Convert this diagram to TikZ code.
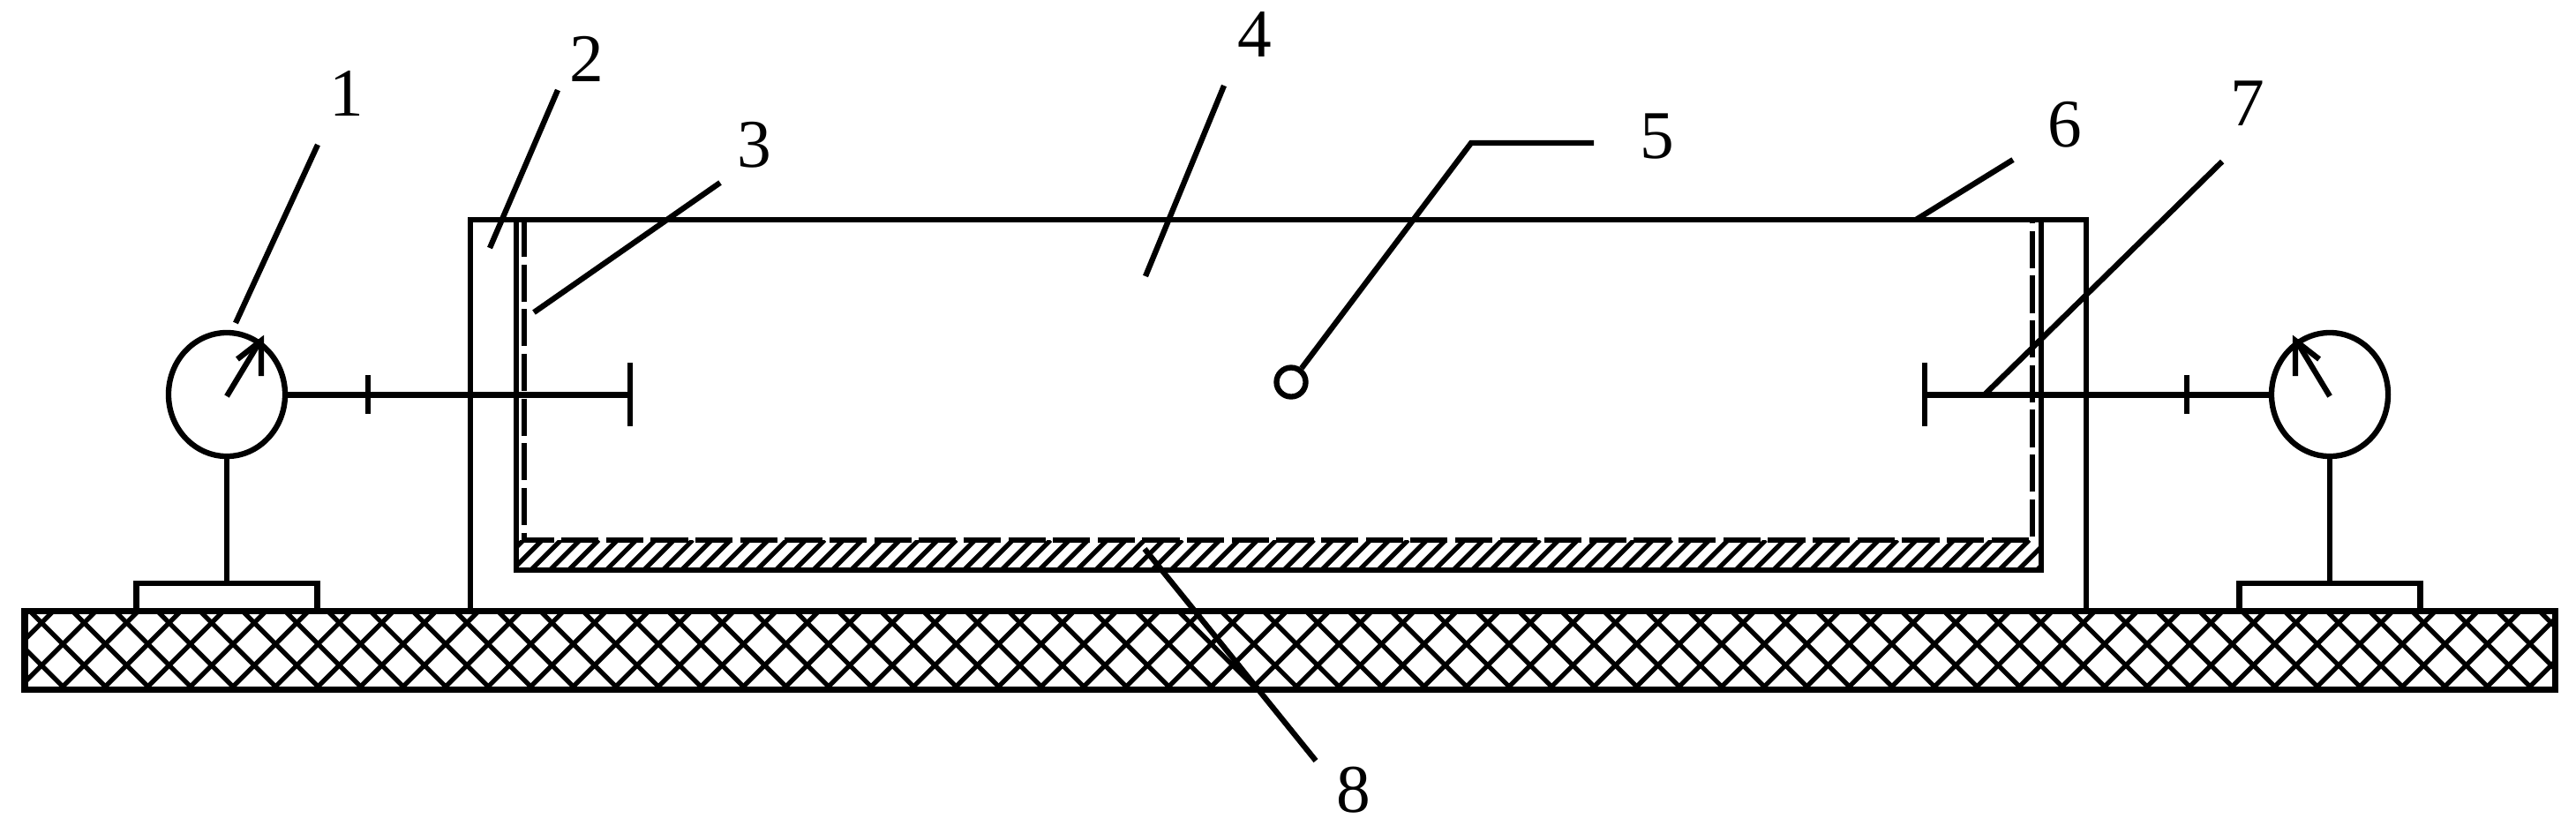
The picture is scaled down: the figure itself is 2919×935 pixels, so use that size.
\documentclass[tikz,border=0pt]{standalone}
\usepackage{fontspec}
\setmainfont{Liberation Serif}
\usetikzlibrary{shapes.geometric}
\tikzset{
    part/.style={line width=2pt, line join=miter},
    wall/.style={line width=1.7pt, line join=miter},
    leader/.style={line width=1.8pt},
    hatch/.style={line width=1.5pt},
    tag/.style={inner sep=0pt, font=\fontsize{22}{22}\selectfont},
    dial/.style={ellipse, draw, line width=1.8pt, inner sep=0pt, minimum width=1.32cm, minimum height=1.4cm},
    foot/.style={rectangle, draw, line width=1.8pt, inner sep=0pt, minimum width=2.05cm, minimum height=0.31cm},
    screen/.style={line width=1.9pt, dash pattern=on 12pt off 2.4pt}
}
\newcommand{\gauge}[3] {
	\node[dial] (dial#1) at (#2,447) {};
	\node[foot] (foot#1) at (#2,676.5) {};
	\draw[leader] (dial#1.south) -- (foot#1.north);
	\draw[leader] (#2,449) -- (#2+#3*38,386);
	\draw[leader] (#2+#3*39,426) -- (#2+#3*39,386) -- (#2+#3*12,407);
}
\begin{document}
\begin{tikzpicture}[x=0.01cm,y=-0.01cm]
		\useasboundingbox (0,0) rectangle (2919,935);

		% gauges
		\gauge{L}{257}{1}
		\gauge{R}{2640}{-1}

		% ground
		\begin{scope}
			\clip (28,692) rectangle (2895,781);
			\foreach \k in {-25,...,36}
				\draw[hatch] ({450+48.2*\k+692},692) -- ({450+48.2*\k+781},781);
			\foreach \k in {-27,...,35}
				\draw[hatch] ({2006+48.2*\k-692},692) -- ({2006+48.2*\k-781},781);
		\end{scope}
		\draw[part] (28,692) rectangle (2895,781);

		% housing and tank
		\draw[wall] (533,692) |- (2364,249) -- (2364,692);
		\draw[wall] (585,249) |- (2313,646) -- (2313,249);

		% screen
		\draw[screen] (594,249) -- (594,612) -- (2303,612) -- (2303,249);

		% sediment
		\begin{scope}
			\clip (585,612) rectangle (2313,646);
			\foreach \n in {0,...,83}
				\draw[hatch] ({1205+21.33*\n-612},612) -- ({1205+21.33*\n-646},646);
		\end{scope}

		% probes
		\coordinate (barL) at (714,447);
		\coordinate (barR) at (2181,447);
		\draw[part] (dialL.east) -- (barL);
		\draw[part] (dialR.west) -- (barR);
		\draw[wall] (714,411) -- (barL) -- (714,483);
		\draw[wall] (2181,411) -- (barR) -- (2181,483);
		\draw[wall] (417,425) -- (417,469);
		\draw[wall] (2478,425) -- (2478,469);

		% sensor
		\node[circle, draw, line width=1.8pt, inner sep=0pt, minimum size=0.33cm] (sensor) at (1463,433) {};

		% labels
		\node[tag] (n1) at (393,106) {1};
		\node[tag] (n2) at (665,67) {2};
		\node[tag] (n3) at (855,164) {3};
		\node[tag] (n4) at (1422,39) {4};
		\node[tag] (n5) at (1878,155) {5};
		\node[tag] (n6) at (2340,141) {6};
		\node[tag] (n7) at (2547,117) {7};
		\node[tag] (n8) at (1534,895) {8};

		% leaders
		\coordinate (a1) at (360,164);
		\coordinate (a2) at (632,102);
		\coordinate (a3) at (816,207);
		\coordinate (a4) at (1387,97);
		\coordinate (a5) at (1806,162);
		\coordinate (a6) at (2281,181);
		\coordinate (a7) at (2518,183);
		\coordinate (a8) at (1491,862);
		\draw[leader] (a1) -- (267,366);
		\draw[leader] (a2) -- (555,281);
		\draw[leader] (a3) -- (605,354);
		\draw[leader] (a4) -- (1298,313);
		\draw[leader] (a5) -- (1667,162) -- (sensor);
		\draw[leader] (a6) -- (2171,249);
		\draw[leader] (a7) -- (2249,447);
		\draw[leader] (a8) -- (1297,622);
\end{tikzpicture}
\end{document}
